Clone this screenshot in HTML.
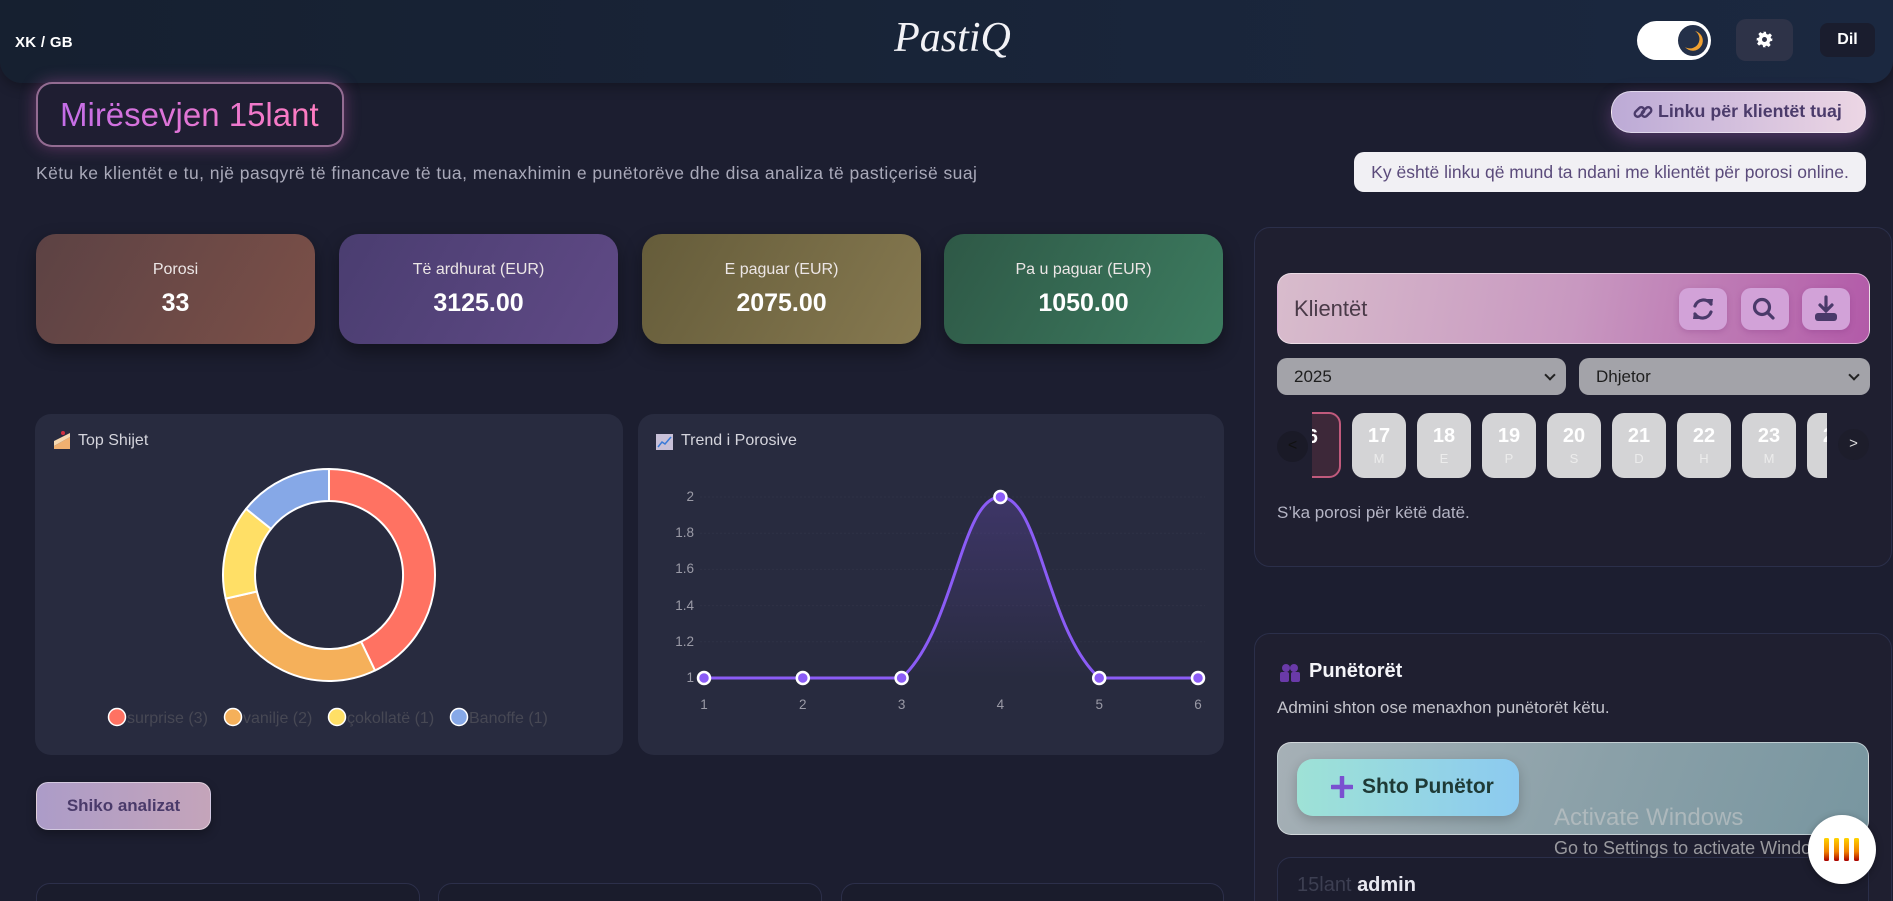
<!DOCTYPE html>
<html><head><meta charset="utf-8">
<style>
*{box-sizing:border-box;margin:0;padding:0}
html,body{width:1893px;height:901px;overflow:hidden}
body{background:#1c1e30;font-family:"Liberation Sans","DejaVu Sans",sans-serif}
#w{position:relative;width:1893px;height:901px;overflow:hidden;background:#1c1e30}
.a{position:absolute}
.hdr{left:0;top:0;width:1893px;height:83px;background:linear-gradient(90deg,#162030,#1b2840);border-radius:0 0 22px 22px;box-shadow:0 4px 12px rgba(0,0,0,0.3)}
.card{top:234px;height:110px;width:279px;border-radius:20px;box-shadow:0 8px 18px rgba(0,0,0,0.4);color:#fff;text-align:center}
.card .l{position:absolute;left:0;right:0;top:27px;font-size:16px;color:#ece6e6}
.card .v{position:absolute;left:0;right:0;top:55px;font-size:25px;font-weight:bold}
.panel{background:#282b3f;border-radius:16px}
.rp{background:#1f1f30;border:1px solid #2b2f4a;border-radius:16px}
.day{top:413px;width:54px;height:65px;border-radius:12px;background:#d4d4d6;color:#fff;text-align:center}
.day b{display:block;font-size:20px;margin-top:12px;line-height:22px}
.day i{display:block;font-style:normal;font-size:13px;color:#ececec;margin-top:4px}
.ib{top:288px;width:48px;height:42px;border-radius:10px;background:#d2a2d8;box-shadow:0 2px 6px rgba(120,40,120,0.25)}
.sel{top:358px;height:37px;border-radius:10px;background:#a3a3a9;font-size:17px;color:#1e1e1e;padding:9px 0 0 17px}
.sel:after{content:"";position:absolute;right:12px;top:13px;width:6px;height:6px;border-right:2px solid #222;border-bottom:2px solid #222;transform:rotate(45deg)}
</style></head><body><div id="w">

<div class="a hdr"></div>
<div class="a" style="left:15px;top:34px;font-size:15px;font-weight:bold;color:#fff;letter-spacing:0.3px">XK / GB</div>
<div class="a" style="left:880px;top:14px;width:145px;text-align:center;font-family:'Liberation Serif','DejaVu Serif',serif;font-style:italic;font-size:42px;color:#f2f2f6">PastiQ</div>
<div class="a" style="left:1637px;top:21px;width:74px;height:39px;border-radius:20px;background:#fff"></div>
<div class="a" style="left:1676px;top:23px;width:34px;height:35px;border-radius:50%;background:#243049;border:2px solid #fff"></div>
<svg class="a" style="left:1683px;top:30px" width="20" height="22" viewBox="0 0 20 22"><path d="M12 1 A10 10 0 1 1 2 17 A9 9 0 0 0 12 1 Z" fill="#f0a030"/></svg>
<div class="a" style="left:1736px;top:19px;width:57px;height:42px;border-radius:10px;background:#2e3348"></div>
<svg class="a" style="left:1756px;top:31px" width="17" height="17" viewBox="0 0 24 24"><path fill="#fff" d="M10 1h4l.6 3.2 2.4 1 2.7-1.9 2.8 2.8-1.9 2.7 1 2.4L23 10v4l-3.2.6-1 2.4 1.9 2.7-2.8 2.8-2.7-1.9-2.4 1L14 23h-4l-.6-3.2-2.4-1-2.7 1.9-2.8-2.8 1.9-2.7-1-2.4L1 14v-4l3.2-.6 1-2.4-1.9-2.7 2.8-2.8 2.7 1.9 2.4-1zM12 8.5a3.5 3.5 0 1 0 0 7 3.5 3.5 0 0 0 0-7z"/></svg>
<div class="a" style="left:1820px;top:23px;width:55px;height:34px;border-radius:8px;background:#1a1d2e;color:#fff;font-weight:bold;font-size:16px;text-align:center;line-height:34px">Dil</div>

<div class="a" style="left:36px;top:82px;width:308px;height:65px;border:2px solid rgba(225,160,210,0.6);border-radius:16px;box-shadow:0 0 16px rgba(230,100,200,0.35);background:#1f1e32"></div>
<div class="a" style="left:60px;top:96px;font-size:33px;background:linear-gradient(90deg,#c46ee8,#ff7cc0);-webkit-background-clip:text;background-clip:text;color:transparent">Mirësevjen 15lant</div>
<div class="a" style="left:36px;top:163px;font-size:17.5px;color:#a9a9b9;letter-spacing:0.45px;white-space:nowrap">Këtu ke klientët e tu, një pasqyrë të financave të tua, menaxhimin e punëtorëve dhe disa analiza të pastiçerisë suaj</div>

<div class="a" style="left:1611px;top:91px;width:255px;height:42px;border-radius:20px;background:linear-gradient(90deg,#bcaad6,#ecd6e4);box-shadow:0 6px 18px rgba(180,100,200,0.35);border:1px solid rgba(255,255,255,0.5)"></div>
<svg class="a" style="left:1632px;top:102px" width="22" height="20" viewBox="0 0 22 20"><g fill="none" stroke="#4b3b6b" stroke-width="2.4"><rect x="2" y="7" width="11" height="6" rx="3" transform="rotate(-45 7.5 10)"/><rect x="9" y="7" width="11" height="6" rx="3" transform="rotate(-45 14.5 10)"/></g></svg>
<div class="a" style="left:1658px;top:101px;font-size:17.8px;font-weight:bold;color:#4b3b6b;white-space:nowrap">Linku për klientët tuaj</div>
<div class="a" style="left:1354px;top:152px;width:512px;height:40px;border-radius:10px;background:#f1f0f4;font-size:17.5px;color:#5b4b7b;text-align:center;line-height:40px;white-space:nowrap">Ky është linku që mund ta ndani me klientët për porosi online.</div>

<div class="a card" style="left:36px;background:linear-gradient(120deg,#5c4244,#7c5048)"><div class="l">Porosi</div><div class="v">33</div></div>
<div class="a card" style="left:339px;background:linear-gradient(120deg,#4a3d70,#604a86)"><div class="l">Të ardhurat (EUR)</div><div class="v">3125.00</div></div>
<div class="a card" style="left:642px;background:linear-gradient(120deg,#655c3a,#867950)"><div class="l">E paguar (EUR)</div><div class="v">2075.00</div></div>
<div class="a card" style="left:944px;background:linear-gradient(120deg,#2e5846,#3d7c60)"><div class="l">Pa u paguar (EUR)</div><div class="v">1050.00</div></div>

<div class="a panel" style="left:35px;top:414px;width:588px;height:341px"></div>
<div class="a panel" style="left:638px;top:414px;width:586px;height:341px"></div>
<div class="a" style="left:78px;top:432px;font-size:16px;color:#d4d4dc">Top Shijet</div>
<div class="a" style="left:681px;top:432px;font-size:16px;color:#d4d4dc">Trend i Porosive</div>

<svg class="a" style="left:0;top:0" width="1893" height="901">
<defs><linearGradient id="fg" x1="0" y1="497" x2="0" y2="678" gradientUnits="userSpaceOnUse"><stop offset="0" stop-color="#8b5cf6" stop-opacity="0.22"/><stop offset="1" stop-color="#8b5cf6" stop-opacity="0.0"/></linearGradient></defs>
<path d="M54 446 L70 437 L70 449 L54 449 Z" fill="#f0b070"/><path d="M54 441 L70 433 L70 437 L54 446Z" fill="#f6d8b0"/><circle cx="63" cy="433" r="2" fill="#d03040"/>
<rect x="656" y="434" width="17" height="16" fill="#c8c0d8"/><polyline points="658,447 662,442 665,444 671,437" fill="none" stroke="#3a7ad8" stroke-width="1.5"/>
<g stroke="#fff" stroke-width="2" stroke-linejoin="round">
<path d="M329 469 A106 106 0 0 1 375 670.5 L361.1 641.7 A74 74 0 0 0 329 501 Z" fill="#ff7262"/>
<path d="M375 670.5 A106 106 0 0 1 225.7 598.6 L256.9 591.5 A74 74 0 0 0 361.1 641.7 Z" fill="#f5b05a"/>
<path d="M225.7 598.6 A106 106 0 0 1 246.1 508.9 L271.1 528.9 A74 74 0 0 0 256.9 591.5 Z" fill="#ffdf66"/>
<path d="M246.1 508.9 A106 106 0 0 1 329 469 L329 501 A74 74 0 0 0 271.1 528.9 Z" fill="#86a8e7"/>
</g>
<g stroke="#fff" stroke-width="1.5">
<circle cx="117" cy="717" r="8.5" fill="#ff7262"/><circle cx="233" cy="717" r="8.5" fill="#f5b05a"/><circle cx="337" cy="717" r="8.5" fill="#ffdf66"/><circle cx="459" cy="717" r="8.5" fill="#86a8e7"/>
</g>
<g font-family="Liberation Sans, sans-serif" font-size="16" fill="#474854">
<text x="127" y="723">surprise (3)</text><text x="243" y="723">vanilje (2)</text><text x="347" y="723">çokollatë (1)</text><text x="469" y="723">Banoffe (1)</text>
</g>
<g stroke="#ffffff" stroke-opacity="0.03" stroke-dasharray="2 2">
<line x1="700" y1="497" x2="1205" y2="497"/><line x1="700" y1="533.2" x2="1205" y2="533.2"/><line x1="700" y1="569.4" x2="1205" y2="569.4"/><line x1="700" y1="605.6" x2="1205" y2="605.6"/><line x1="700" y1="641.8" x2="1205" y2="641.8"/>
</g>
<g font-family="Liberation Sans, sans-serif" font-size="13.5" fill="#9a9aa6" text-anchor="end">
<text x="694" y="501">2</text><text x="694" y="537">1.8</text><text x="694" y="573">1.6</text><text x="694" y="610">1.4</text><text x="694" y="646">1.2</text><text x="694" y="682">1</text>
</g>
<g font-family="Liberation Sans, sans-serif" font-size="13.5" fill="#9a9aa6" text-anchor="middle">
<text x="704" y="709">1</text><text x="802.8" y="709">2</text><text x="901.6" y="709">3</text><text x="1000.4" y="709">4</text><text x="1099.2" y="709">5</text><text x="1198" y="709">6</text>
</g>
<path d="M901.6 678 C955 629.1 960.9 497 1000.4 497 C1039.9 497 1045.8 629.1 1099.2 678 Z" fill="url(#fg)"/>
<path d="M704 678 L901.6 678 C955 629.1 960.9 497 1000.4 497 C1039.9 497 1045.8 629.1 1099.2 678 L1198 678" fill="none" stroke="#8b5cf6" stroke-width="3"/>
<g fill="#8b5cf6" stroke="#fff" stroke-width="2.5">
<circle cx="704" cy="678" r="6"/><circle cx="802.8" cy="678" r="6"/><circle cx="901.6" cy="678" r="6"/><circle cx="1000.4" cy="497" r="6"/><circle cx="1099.2" cy="678" r="6"/><circle cx="1198" cy="678" r="6"/>
</g>
</svg>

<div class="a" style="left:36px;top:782px;width:175px;height:48px;border-radius:12px;background:linear-gradient(90deg,#ac9cc8,#c4a4ba);border:1px solid rgba(255,255,255,0.45);font-size:17px;font-weight:bold;color:#4a3a6a;text-align:center;line-height:46px;box-shadow:0 4px 10px rgba(0,0,0,0.3)">Shiko analizat</div>

<div class="a" style="left:36px;top:883px;width:384px;height:40px;border:1px solid #2c2f4a;border-radius:14px;background:#1a1c2c"></div>
<div class="a" style="left:438px;top:883px;width:384px;height:40px;border:1px solid #2c2f4a;border-radius:14px;background:#1a1c2c"></div>
<div class="a" style="left:841px;top:883px;width:383px;height:40px;border:1px solid #2c2f4a;border-radius:14px;background:#1a1c2c"></div>

<div class="a rp" style="left:1254px;top:227px;width:638px;height:340px"></div>
<div class="a" style="left:1277px;top:273px;width:593px;height:71px;border-radius:14px;background:linear-gradient(100deg,#d8bccc,#c898c0 50%,#b25aa8);border:1px solid rgba(255,255,255,0.5)"></div>
<div class="a" style="left:1294px;top:296px;font-size:22px;color:#4a3a48">Klientët</div>
<div class="a ib" style="left:1679px"></div>
<div class="a ib" style="left:1741px"></div>
<div class="a ib" style="left:1802px"></div>
<svg class="a" style="left:1679px;top:288px" width="180" height="42" viewBox="0 0 180 42">
<g fill="none" stroke="#4a3a6a" stroke-width="3.2" stroke-linecap="round">
<path d="M16 18 A9 9 0 0 1 32 16"/><path d="M32 24 A9 9 0 0 1 16 26"/>
<circle cx="83" cy="19" r="7.5"/><path d="M88.5 24.5 L94 30"/>
<path d="M147 9 V23 M141 17 L147 23 L153 17"/>
</g>
<path d="M28 11 L34 11 L33 18 Z M20 31 L14 31 L15 24 Z" fill="#4a3a6a"/>
<rect x="136" y="25" width="22" height="8" rx="3" fill="#4a3a6a"/>
</svg>
<div class="a sel" style="left:1277px;width:289px">2025</div>
<div class="a sel" style="left:1579px;width:291px">Dhjetor</div>

<div class="a" style="left:1277px;top:431px;width:31px;height:31px;border-radius:50%;background:#1a1a27;color:#111;font-size:16px;text-align:center;line-height:30px">&lt;</div>
<div class="a" style="left:1838px;top:429px;width:31px;height:31px;border-radius:50%;background:#1d1d2b;color:#ddd;font-size:15px;text-align:center;line-height:30px">&gt;</div>
<div class="a" style="left:1312px;top:412px;width:515px;height:68px;overflow:hidden">
 <div class="a" style="left:-33px;top:0;width:62px;height:66px;border-radius:12px;background:#3d2839;border:2px solid #c05a7c;color:#fff;font-weight:bold;font-size:20px;text-align:right;padding:12px 21px 0 0">16</div>
 <div class="a day" style="left:40px;top:1px"><b>17</b><i>M</i></div>
 <div class="a day" style="left:105px;top:1px"><b>18</b><i>E</i></div>
 <div class="a day" style="left:170px;top:1px"><b>19</b><i>P</i></div>
 <div class="a day" style="left:235px;top:1px"><b>20</b><i>S</i></div>
 <div class="a day" style="left:300px;top:1px"><b>21</b><i>D</i></div>
 <div class="a day" style="left:365px;top:1px"><b>22</b><i>H</i></div>
 <div class="a day" style="left:430px;top:1px"><b>23</b><i>M</i></div>
 <div class="a day" style="left:495px;top:1px"><b>24</b><i>E</i></div>
</div>
<div class="a" style="left:1277px;top:503px;font-size:17px;color:#b4b4c4">S’ka porosi për këtë datë.</div>

<div class="a rp" style="left:1254px;top:633px;width:638px;height:300px"></div>
<svg class="a" style="left:1280px;top:662px" width="20" height="20" viewBox="0 0 20 20"><g fill="#6a3aa8"><circle cx="6" cy="6" r="4"/><circle cx="14" cy="6" r="4"/><rect x="0" y="10" width="9" height="10" rx="2"/><rect x="11" y="10" width="9" height="10" rx="2"/></g></svg>
<div class="a" style="left:1309px;top:660px;font-size:20px;font-weight:bold;color:#f4f4f8">Punëtorët</div>
<div class="a" style="left:1277px;top:698px;font-size:17px;color:#c4c4cc">Admini shton ose menaxhon punëtorët këtu.</div>
<div class="a" style="left:1277px;top:742px;width:592px;height:93px;border-radius:14px;background:linear-gradient(110deg,#a6b0b6,#8aa0a8 55%,#7896a0);border:1px solid rgba(255,255,255,0.5)"></div>
<div class="a" style="left:1297px;top:759px;width:222px;height:57px;border-radius:16px;background:linear-gradient(90deg,#9ee2d6,#8ccaf0);box-shadow:0 4px 12px rgba(0,0,0,0.2)"></div>
<svg class="a" style="left:1331px;top:776px" width="22" height="22" viewBox="0 0 22 22"><path d="M11 1 V21 M1 11 H21" stroke="#7a50d0" stroke-width="4.5" stroke-linecap="round"/></svg>
<div class="a" style="left:1362px;top:775px;font-size:21px;font-weight:bold;color:#1e3a36">Shto Punëtor</div>
<div class="a" style="left:1277px;top:857px;width:592px;height:70px;border:1px solid #2b2f4a;border-radius:14px;background:#1c1d2e"></div>
<div class="a" style="left:1297px;top:874px;font-size:20px;color:#3d3f52">15lant <span style="color:#e8e8f0;font-weight:bold">admin</span></div>

<div class="a" style="left:1554px;top:804px;font-size:24px;color:rgba(205,205,205,0.55)">Activate Windows</div>
<div class="a" style="left:1554px;top:838px;font-size:18px;color:rgba(205,205,205,0.7)">Go to Settings to activate Windows.</div>
<div class="a" style="left:1808px;top:815px;width:68px;height:69px;border-radius:50%;background:#fff;box-shadow:0 2px 8px rgba(0,0,0,0.3)"></div>
<svg class="a" style="left:1823px;top:837px" width="38" height="25" viewBox="0 0 38 25"><defs><linearGradient id="bar2" x1="0" y1="0" x2="0" y2="1"><stop offset="0" stop-color="#ffd400"/><stop offset="0.6" stop-color="#f08000"/><stop offset="1" stop-color="#a80000"/></linearGradient></defs><g fill="url(#bar2)"><rect x="1" y="1" width="5" height="23" rx="1.5"/><rect x="11" y="1" width="5" height="23" rx="1.5"/><rect x="21" y="1" width="5" height="23" rx="1.5"/><rect x="31" y="1" width="5" height="23" rx="1.5"/></g></svg>
</div></body></html>
